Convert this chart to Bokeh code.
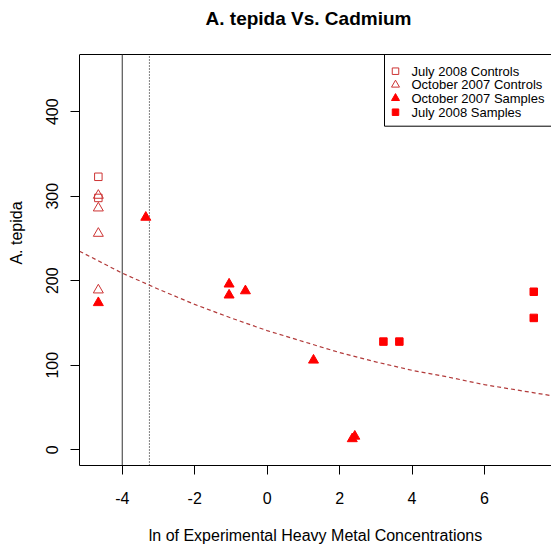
from bokeh.plotting import figure
from bokeh.models import Span, BoxAnnotation, Label, FixedTicker
from bokeh.embed import file_html
from bokeh.resources import INLINE

# --- data -------------------------------------------------------------
# July 2008 controls (open squares)
jul_ctrl_x = [-4.66, -4.66]
jul_ctrl_y = [323, 298]
# October 2007 controls (open triangles)
oct_ctrl_x = [-4.66, -4.66, -4.66, -4.66]
oct_ctrl_y = [301, 286, 256, 189]
# October 2007 samples (filled triangles)
oct_samp_x = [-4.66, -3.35, -1.05, -1.05, -0.60, 1.28, 2.35, 2.42]
oct_samp_y = [174, 275, 196, 183, 188, 106, 13, 16]
# July 2008 samples (filled squares)
jul_samp_x = [3.21, 3.65, 7.36, 7.36]
jul_samp_y = [128, 128, 187, 156]
# fitted trend (dashed)
curve_x = [-5.18, -4, -3, -2, -1, 0, 1, 2, 3, 4, 5, 6, 7, 7.85]
curve_y = [235, 209, 190, 172, 156, 141, 128, 115, 104, 94, 86, 77, 70, 64]
# reference concentrations (vertical lines)
solid_ref = -4.0
dotted_ref = -3.25

x_ticks = [-4, -2, 0, 2, 4, 6]
y_ticks = [0, 100, 200, 300, 400]

title_text = "A. tepida Vs. Cadmium"
legend_labels = ["July 2008 Controls", "October 2007 Controls",
                 "October 2007 Samples", "July 2008 Samples"]

# --- layout -----------------------------------------------------------
# The frame runs to the top of the canvas so the title can sit inside it;
# the plot box itself spans y from Y0 to Y1 (pixel rows BOX_TOP..FB).
W, H = 551, 550
FL, FR, FB = 79, 551, 465
BOX_TOP = 54
X0, X1 = -5.18, 7.85
Y0, Y1 = -18.6, 467.7
PX_PER_Y = (FB - BOX_TOP) / (Y1 - Y0)
Y_TOP = Y1 + BOX_TOP / PX_PER_Y
FONT = "Liberation Sans"
DARK_RED = "#CD3333"
RED = "#FF0000"


def px_x(px):
    return X0 + (px - FL) / (FR - FL) * (X1 - X0)


def px_y(py):
    return Y_TOP - py / PX_PER_Y


p = figure(width=W, height=H, x_range=(X0, X1), y_range=(Y0, Y_TOP),
           output_backend="svg", toolbar_location=None,
           min_border_left=FL, min_border_top=0,
           min_border_right=0, min_border_bottom=H - FB)
p.outline_line_color = None
p.grid.visible = False
p.background_fill_color = "white"
p.border_fill_color = "white"

for ax in (p.xaxis[0], p.yaxis[0]):
    ax.axis_line_color = "black"
    ax.major_tick_line_color = "black"
    ax.major_tick_out = 9
    ax.major_tick_in = 0
    ax.minor_tick_line_color = None
    ax.major_label_text_font = FONT
    ax.major_label_text_font_size = "16px"
    ax.major_label_text_color = "black"
    ax.axis_label_text_font = FONT
    ax.axis_label_text_font_size = "16px"
    ax.axis_label_text_font_style = "normal"
    ax.axis_label_text_color = "black"

p.xaxis.ticker = FixedTicker(ticks=x_ticks)
p.yaxis.ticker = FixedTicker(ticks=y_ticks)
p.yaxis.bounds = (Y0, Y1)
p.xaxis.major_label_overrides = {t: str(t) for t in x_ticks}
p.yaxis.major_label_overrides = {t: str(t) for t in y_ticks}
p.xaxis.axis_label = "ln of Experimental Heavy Metal Concentrations"
p.yaxis.axis_label = "A. tepida"
p.xaxis.major_label_standoff = 17
p.xaxis.axis_label_standoff = 20
p.yaxis.major_label_orientation = "vertical"
p.yaxis.major_label_standoff = 12
p.yaxis.axis_label_standoff = 19

# title
p.add_layout(Label(x=px_x(308), y=px_y(18), text=title_text,
                   text_font=FONT, text_font_size="19px", text_font_style="bold",
                   text_align="center", text_baseline="middle", text_color="black"))

# top border of the plot box
p.segment(x0=[X0], y0=[Y1], x1=[X1], y1=[Y1], line_color="black", line_width=1)

# reference lines
p.segment(x0=[solid_ref], y0=[Y0], x1=[solid_ref], y1=[Y1],
          line_color="#333333", line_width=1)
p.segment(x0=[dotted_ref], y0=[Y0], x1=[dotted_ref], y1=[Y1],
          line_color="black", line_width=1, line_dash="1 2")

# legend box, drawn in the top right corner beneath its symbols
p.add_layout(BoxAnnotation(left=px_x(384), right=px_x(600), top=Y1, bottom=px_y(125.7),
                           fill_color="white", fill_alpha=1.0, level="underlay",
                           line_color="black", line_width=1, line_alpha=1.0))

# trend line
p.line(curve_x, curve_y, line_color="#B23A3A", line_width=1.2, line_dash="4 3")

# points
p.scatter(jul_ctrl_x, jul_ctrl_y, marker="square", size=7.5, fill_color=None,
          line_color=DARK_RED, line_width=1)
p.scatter(oct_ctrl_x, oct_ctrl_y, marker="triangle", size=10, fill_color=None,
          line_color=DARK_RED, line_width=1)
p.scatter(oct_samp_x, oct_samp_y, marker="triangle", size=10, fill_color=RED,
          line_color=RED)
p.scatter(jul_samp_x, jul_samp_y, marker="square", size=7.5, fill_color=RED,
          line_color=RED)

# legend entries
rows = [70.7, 84.3, 97.7, 111.7]
styles = [("square", None, DARK_RED, 6.5),
          ("triangle", None, DARK_RED, 8),
          ("triangle", RED, RED, 8),
          ("square", RED, RED, 6.5)]
for row, label, (mk, fc, lc, sz) in zip(rows, legend_labels, styles):
    p.scatter([px_x(395)], [px_y(row)], marker=mk, size=sz,
              fill_color=fc, line_color=lc, line_width=1)
    p.add_layout(Label(x=px_x(411), y=px_y(row), text=label,
                       text_font=FONT, text_font_size="13px",
                       text_baseline="middle", text_align="left",
                       text_color="black"))

open("out.html", "w").write(file_html(p, INLINE))
